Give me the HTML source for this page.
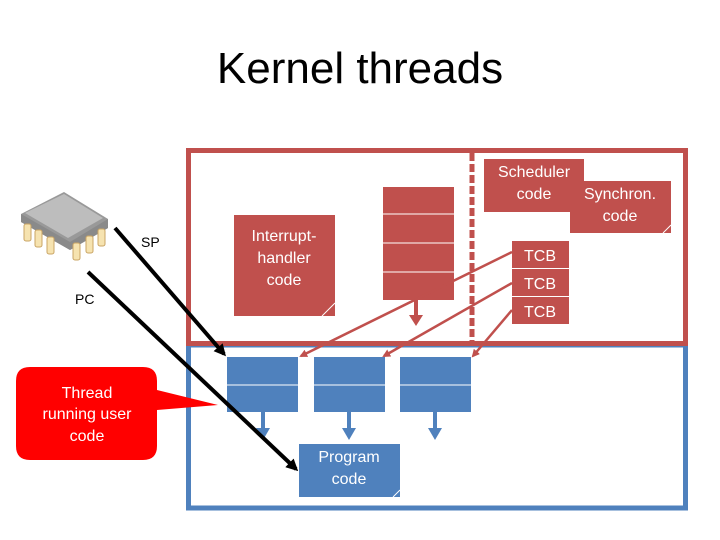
<!DOCTYPE html>
<html><head><style>
body{margin:0;background:#fff;}
svg{display:block;font-family:"Liberation Sans",Arial,sans-serif;}
</style></head><body>
<svg width="720" height="540" viewBox="0 0 720 540">
<defs>
<marker id="ar" markerWidth="8" markerHeight="8" refX="6" refY="4" orient="auto" markerUnits="userSpaceOnUse"><path d="M0,0 L8,4 L0,8 z" fill="#c0504d"/></marker>
<marker id="ab" markerWidth="12" markerHeight="12" refX="9" refY="6" orient="auto" markerUnits="userSpaceOnUse"><path d="M0,0 L12,6 L0,12 z" fill="#000"/></marker>
</defs>
<text x="360" y="83" font-size="44" text-anchor="middle" fill="#000">Kernel threads</text>
<!-- blue box -->
<rect x="188.5" y="345" width="497" height="163" fill="none" stroke="#4f81bd" stroke-width="5"/>
<!-- red box -->
<rect x="188.5" y="150.5" width="497" height="193" fill="none" stroke="#c0504d" stroke-width="5"/>
<line x1="472" y1="153" x2="472" y2="342" stroke="#c0504d" stroke-width="5" stroke-dasharray="8,3"/>
<!-- red stack -->
<rect x="383" y="187" width="71" height="113" fill="#c0504d"/>
<g stroke="#fff" stroke-width="1"><line x1="383" y1="214" x2="454" y2="214"/><line x1="383" y1="243" x2="454" y2="243"/><line x1="383" y1="272" x2="454" y2="272"/></g>
<line x1="416" y1="300" x2="416" y2="316" stroke="#c0504d" stroke-width="4"/>
<path d="M409,315 L423,315 L416,326 z" fill="#c0504d"/>
<!-- interrupt -->
<rect x="234" y="215" width="101" height="101" fill="#c0504d"/>
<text font-size="16" fill="#fff" text-anchor="middle"><tspan x="284" y="241">Interrupt-</tspan><tspan x="284" y="263">handler</tspan><tspan x="284" y="285">code</tspan></text>
<path d="M322,316 L335,303" stroke="#fff" stroke-width="1"/>
<!-- scheduler -->
<rect x="484" y="159" width="100" height="53" fill="#c0504d"/>
<text font-size="16" fill="#fff" text-anchor="middle"><tspan x="534" y="177">Scheduler</tspan><tspan x="534" y="199">code</tspan></text>
<rect x="570" y="181" width="101" height="52" fill="#c0504d"/>
<text font-size="16" fill="#fff" text-anchor="middle"><tspan x="620" y="199">Synchron.</tspan><tspan x="620" y="221">code</tspan></text>
<path d="M663,233 L671,225" stroke="#fff" stroke-width="1"/>
<!-- TCBs -->
<rect x="512" y="241" width="57" height="83" fill="#c0504d"/>
<g stroke="#fff"><line x1="512" y1="268.5" x2="569" y2="268.5"/><line x1="512" y1="296.5" x2="569" y2="296.5"/></g>
<g font-size="16" fill="#fff" text-anchor="middle"><text x="540" y="261">TCB</text><text x="540" y="289">TCB</text><text x="540" y="317">TCB</text></g>
<!-- red arrows -->
<g stroke="#c0504d" stroke-width="2.5" marker-end="url(#ar)">
<line x1="512" y1="252" x2="301" y2="356"/>
<line x1="512" y1="283" x2="384" y2="356"/>
<line x1="512" y1="310" x2="473" y2="356"/>
</g>
<!-- blue stacks -->
<g fill="#4f81bd">
<rect x="227" y="357" width="71" height="55"/><rect x="314" y="357" width="71" height="55"/><rect x="400" y="357" width="71" height="55"/>
</g>
<g stroke="#fff"><line x1="227" y1="385" x2="298" y2="385"/><line x1="314" y1="385" x2="385" y2="385"/><line x1="400" y1="385" x2="471" y2="385"/></g>
<g stroke="#4f81bd" stroke-width="4"><line x1="263" y1="412" x2="263" y2="430"/><line x1="349" y1="412" x2="349" y2="430"/><line x1="435" y1="412" x2="435" y2="430"/></g>
<g fill="#4f81bd"><path d="M256,428 L270,428 L263,440 z"/><path d="M342,428 L356,428 L349,440 z"/><path d="M428,428 L442,428 L435,440 z"/></g>
<rect x="299" y="444" width="101" height="53" fill="#4f81bd"/>
<text font-size="16" fill="#fff" text-anchor="middle"><tspan x="349" y="462">Program</tspan><tspan x="349" y="484">code</tspan></text>
<path d="M393,497 L400,490" stroke="#fff" stroke-width="1"/>
<!-- callout -->
<path d="M30,367 L143,367 Q157,367 157,381 L157,390 L218,405 L157,410 L157,446 Q157,460 143,460 L30,460 Q16,460 16,446 L16,381 Q16,367 30,367 z" fill="#ff0000"/>
<text font-size="16" fill="#fff" text-anchor="middle"><tspan x="87" y="398">Thread</tspan><tspan x="87" y="419">running user</tspan><tspan x="87" y="441">code</tspan></text>
<!-- chip -->
<g>
<path d="M21,214 L64,192 L108,219 L108,228 L70,250 L21,222 z" fill="#999"/>
<path d="M25,213 L64,194 L103,218 L68,238 z" fill="#bdbdbd"/>
<path d="M21,214 L70,242 L108,219 L108,228 L70,250 L21,222 z" fill="#8a8a8a"/>
<g fill="#f6e3b0" stroke="#c9a464" stroke-width="1">
<rect x="24" y="224" width="7" height="17" rx="2"/><rect x="35" y="230" width="7" height="17" rx="2"/><rect x="47" y="237" width="7" height="17" rx="2"/>
<rect x="73" y="243" width="7" height="17" rx="2"/><rect x="86" y="236" width="7" height="17" rx="2"/><rect x="98" y="229" width="7" height="17" rx="2"/>
</g>
</g>
<text x="141" y="247" font-size="14" fill="#000">SP</text>
<text x="75" y="304" font-size="14" fill="#000">PC</text>
<g stroke="#000" stroke-width="4" marker-end="url(#ab)">
<line x1="115" y1="228" x2="224" y2="354"/>
<line x1="88" y1="272" x2="296" y2="469"/>
</g>
</svg>
</body></html>
